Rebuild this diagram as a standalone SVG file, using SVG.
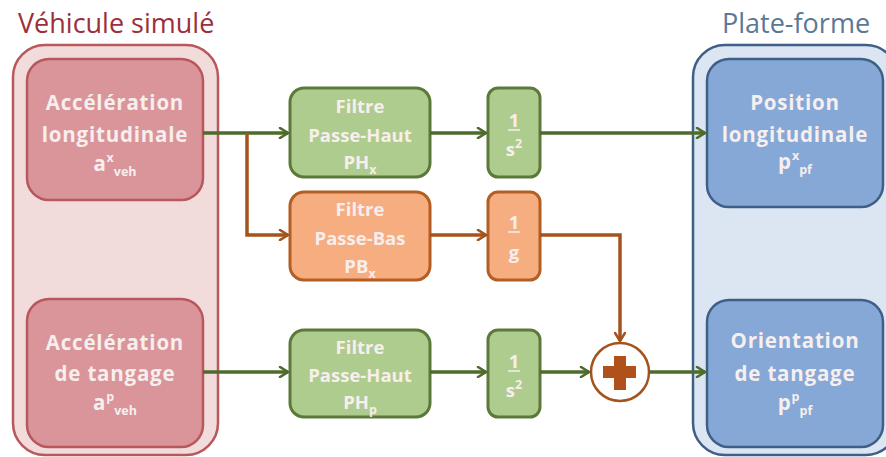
<svg xmlns="http://www.w3.org/2000/svg" width="886" height="457" viewBox="0 0 886 457">
<defs>
<style>
.title{font-family:"Open Sans","Liberation Sans",sans-serif;font-size:27px}
.lbl{font-family:"Open Sans","Liberation Sans",sans-serif;font-weight:bold;font-size:20.5px;letter-spacing:0.8px;text-anchor:middle}
.flt{font-family:"Open Sans","Liberation Sans",sans-serif;font-weight:bold;font-size:18.5px;text-anchor:middle}
.sm{font-size:12.5px;letter-spacing:0}
.redOuter{fill:#f2dcdb;stroke:#b8575c;stroke-width:2.5}
.redInner{fill:#d9959a;stroke:#b8575c;stroke-width:2.5}
.blueOuter{fill:#dce6f2;stroke:#3f5f88;stroke-width:2.5}
.blueInner{fill:#85a8d6;stroke:#3f5f88;stroke-width:2.5}
.green{fill:#afcc8f;stroke:#5b7a3a;stroke-width:3}
.orange{fill:#f6ad80;stroke:#b35e22;stroke-width:3}
.wt{fill:#f7eeee}
.gl{fill:none;stroke:#4f6b2b;stroke-width:3.5}
.ol{fill:none;stroke:#a5531d;stroke-width:3.5}
</style>
<marker id="ag" viewBox="0 0 12 12" refX="10" refY="6" markerWidth="12" markerHeight="12" markerUnits="userSpaceOnUse" orient="auto">
<path d="M2,1 L10,6 L2,11" fill="none" stroke="#4f6b2b" stroke-width="2.6" stroke-linecap="round"/>
</marker>
<marker id="ao" viewBox="0 0 12 12" refX="10" refY="6" markerWidth="12" markerHeight="12" markerUnits="userSpaceOnUse" orient="auto">
<path d="M2,1 L10,6 L2,11" fill="none" stroke="#a5531d" stroke-width="2.6" stroke-linecap="round"/>
</marker>
</defs>
<rect width="886" height="457" fill="#ffffff"/>

<g id="vehicule">
<text class="title" x="18" y="33" fill="#9d2f3a">Véhicule simulé</text>
<rect class="redOuter" x="13" y="45" width="205" height="410" rx="32"/>
</g>
<g id="plateforme">
<text class="title" x="722" y="33" fill="#5b7896">Plate-forme</text>
<rect class="blueOuter" x="693" y="45" width="205" height="410" rx="32"/>
</g>

<g id="acc-long">
<rect class="redInner" x="27" y="59" width="176" height="141" rx="22"/>
<text class="lbl wt" x="115" y="110">Accélération</text>
<text class="lbl wt" x="115" y="142">longitudinale</text>
<text class="lbl wt" x="115" y="171">a<tspan class="sm" dy="-9">x</tspan><tspan class="sm" dy="14">veh</tspan></text>
</g>
<g id="acc-tang">
<rect class="redInner" x="27" y="299" width="176" height="148" rx="22"/>
<text class="lbl wt" x="115" y="350">Accélération</text>
<text class="lbl wt" x="115" y="381">de tangage</text>
<text class="lbl wt" x="115" y="410">a<tspan class="sm" dy="-9">p</tspan><tspan class="sm" dy="14">veh</tspan></text>
</g>

<g id="ph-x">
<rect class="green" x="290" y="88" width="140" height="89" rx="14"/>
<text class="flt wt" x="360" y="113">Filtre</text>
<text class="flt wt" x="360" y="142">Passe-Haut</text>
<text class="flt wt" x="360" y="169">PH<tspan class="sm" dy="5">x</tspan></text>
</g>
<g id="pb-x">
<rect class="orange" x="290" y="192" width="140" height="88" rx="14"/>
<text class="flt wt" x="360" y="216">Filtre</text>
<text class="flt wt" x="360" y="245">Passe-Bas</text>
<text class="flt wt" x="360" y="273">PB<tspan class="sm" dy="5">x</tspan></text>
</g>
<g id="ph-p">
<rect class="green" x="290" y="330" width="140" height="87" rx="14"/>
<text class="flt wt" x="360" y="354">Filtre</text>
<text class="flt wt" x="360" y="382">Passe-Haut</text>
<text class="flt wt" x="360" y="409">PH<tspan class="sm" dy="5">p</tspan></text>
</g>

<g id="int-x">
<rect class="green" x="488" y="88" width="52" height="89" rx="10"/>
<text class="flt wt" x="514" y="127">1</text>
<line x1="508" y1="130" x2="520" y2="130" stroke="#f7eeee" stroke-width="1.5"/>
<text class="flt wt" x="514" y="156">s<tspan class="sm" dy="-8">2</tspan></text>
</g>
<g id="inv-g">
<rect class="orange" x="488" y="192" width="52" height="88" rx="10"/>
<text class="flt wt" x="514" y="229">1</text>
<line x1="508" y1="232" x2="520" y2="232" stroke="#f7eeee" stroke-width="1.5"/>
<text class="flt wt" x="514" y="259">g</text>
</g>
<g id="int-p">
<rect class="green" x="488" y="330" width="52" height="87" rx="10"/>
<text class="flt wt" x="514" y="368">1</text>
<line x1="508" y1="371" x2="520" y2="371" stroke="#f7eeee" stroke-width="1.5"/>
<text class="flt wt" x="514" y="397">s<tspan class="sm" dy="-8">2</tspan></text>
</g>

<g id="sum">
<circle cx="620" cy="372" r="29" fill="#ffffff" stroke="#a5531d" stroke-width="2.5"/>
<path d="M614,356 h12 v10 h10 v12 h-10 v12 h-12 v-12 h-11 v-12 h11 z" fill="#b0501a"/>
</g>

<g id="pos-long">
<rect class="blueInner" x="707" y="59" width="176" height="148" rx="22"/>
<text class="lbl wt" x="795" y="110">Position</text>
<text class="lbl wt" x="795" y="142">longitudinale</text>
<text class="lbl wt" x="795" y="169">p<tspan class="sm" dy="-9">x</tspan><tspan class="sm" dy="14">pf</tspan></text>
</g>
<g id="orient-tang">
<rect class="blueInner" x="707" y="300" width="176" height="147" rx="22"/>
<text class="lbl wt" x="795" y="348">Orientation</text>
<text class="lbl wt" x="795" y="381">de tangage</text>
<text class="lbl wt" x="795" y="410">p<tspan class="sm" dy="-9">p</tspan><tspan class="sm" dy="14">pf</tspan></text>
</g>

<g id="connectors">
<line class="gl" x1="203" y1="133" x2="288" y2="133" marker-end="url(#ag)"/>
<polyline class="ol" points="247,133 247,235 288,235" marker-end="url(#ao)"/>
<line class="gl" x1="430" y1="133" x2="486" y2="133" marker-end="url(#ag)"/>
<line class="gl" x1="540" y1="133" x2="705" y2="133" marker-end="url(#ag)"/>
<line class="ol" x1="430" y1="235" x2="486" y2="235" marker-end="url(#ao)"/>
<polyline class="ol" points="540,235 620,235 620,341" marker-end="url(#ao)"/>
<line class="gl" x1="203" y1="372" x2="288" y2="372" marker-end="url(#ag)"/>
<line class="gl" x1="430" y1="372" x2="486" y2="372" marker-end="url(#ag)"/>
<line class="gl" x1="540" y1="372" x2="589" y2="372" marker-end="url(#ag)"/>
<line class="gl" x1="649" y1="372" x2="705" y2="372" marker-end="url(#ag)"/>
</g>
</svg>
